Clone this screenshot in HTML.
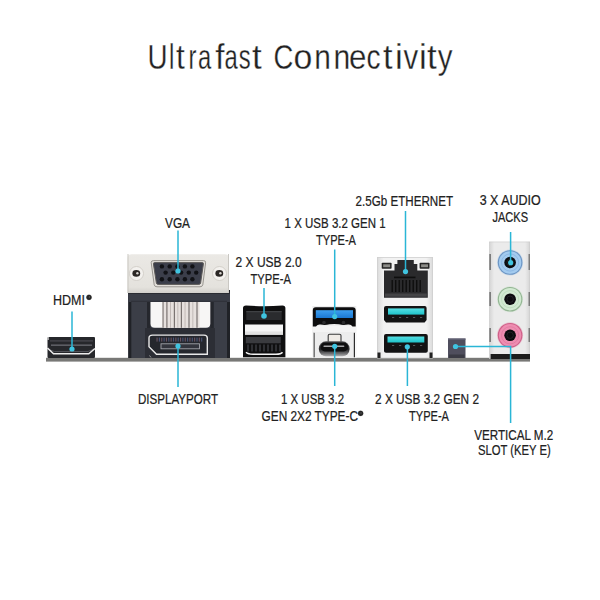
<!DOCTYPE html>
<html><head><meta charset="utf-8">
<style>
html,body{margin:0;padding:0;background:#fff;width:600px;height:600px;overflow:hidden}
svg{display:block}
text{font-family:"Liberation Sans",sans-serif;fill:#222}
</style></head>
<body>
<svg width="600" height="600" viewBox="0 0 600 600">
<defs>
  <linearGradient id="plate" x1="0" y1="0" x2="0" y2="1">
    <stop offset="0" stop-color="#ebe9e5"/>
    <stop offset="0.85" stop-color="#e4e2dd"/>
    <stop offset="1" stop-color="#d2d0cb"/>
  </linearGradient>
  <linearGradient id="housing" x1="0" y1="0" x2="1" y2="0">
    <stop offset="0" stop-color="#d9d9d9"/>
    <stop offset="0.06" stop-color="#e6e6e6"/>
    <stop offset="0.12" stop-color="#f2f2f2"/>
    <stop offset="0.88" stop-color="#f2f2f2"/>
    <stop offset="0.94" stop-color="#e6e6e6"/>
    <stop offset="1" stop-color="#d9d9d9"/>
  </linearGradient>
  <linearGradient id="audio" x1="0" y1="0" x2="1" y2="0">
    <stop offset="0" stop-color="#d4d4d4"/>
    <stop offset="0.12" stop-color="#ebebeb"/>
    <stop offset="0.88" stop-color="#ebebeb"/>
    <stop offset="1" stop-color="#d4d4d4"/>
  </linearGradient>
  <linearGradient id="tcshell" x1="0" y1="0" x2="0" y2="1">
    <stop offset="0" stop-color="#555557"/>
    <stop offset="0.55" stop-color="#2a2a2c"/>
    <stop offset="0.8" stop-color="#6a6a6c"/>
    <stop offset="1" stop-color="#b0b0b2"/>
  </linearGradient>
  <linearGradient id="blue" x1="0" y1="0" x2="0" y2="1">
    <stop offset="0" stop-color="#3d9ff0"/>
    <stop offset="1" stop-color="#1b78d2"/>
  </linearGradient>
  <linearGradient id="teal" x1="0" y1="0" x2="0" y2="1">
    <stop offset="0" stop-color="#55dfe3"/>
    <stop offset="1" stop-color="#1fc3ca"/>
  </linearGradient>
</defs>

<!-- Title -->
<g font-size="35" style="fill:#111;stroke:#fff;stroke-width:0.3">
<text transform="translate(157.50 68.5) scale(0.795 1)" x="-12.64" y="0">U</text>
<text transform="translate(171.65 68.5) scale(0.683 1)" x="-3.90" y="0">l</text>
<text transform="translate(180.65 68.5) scale(0.906 1)" x="-5.00" y="0">t</text>
<text transform="translate(193.00 68.5) scale(0.686 1)" x="-6.70" y="0">r</text>
<text transform="translate(205.00 68.5) scale(0.680 1)" x="-10.48" y="0">a</text>
<text transform="translate(220.00 68.5) scale(0.948 1)" x="-5.14" y="0">f</text>
<text transform="translate(231.65 68.5) scale(0.680 1)" x="-10.48" y="0">a</text>
<text transform="translate(244.65 68.5) scale(0.680 1)" x="-8.60" y="0">s</text>
<text transform="translate(257.00 68.5) scale(1.000 1)" x="-5.00" y="0">t</text>
<text transform="translate(283.70 68.5) scale(0.785 1)" x="-12.86" y="0">C</text>
<text transform="translate(303.00 68.5) scale(0.968 1)" x="-9.73" y="0">o</text>
<text transform="translate(322.65 68.5) scale(0.854 1)" x="-9.76" y="0">n</text>
<text transform="translate(342.00 68.5) scale(0.861 1)" x="-9.76" y="0">n</text>
<text transform="translate(357.65 68.5) scale(0.895 1)" x="-9.70" y="0">e</text>
<text transform="translate(373.65 68.5) scale(0.802 1)" x="-9.03" y="0">c</text>
<text transform="translate(388.00 68.5) scale(0.985 1)" x="-5.00" y="0">t</text>
<text transform="translate(398.80 68.5) scale(1.000 1)" x="-3.88" y="0">i</text>
<text transform="translate(410.75 68.5) scale(0.840 1)" x="-8.75" y="0">v</text>
<text transform="translate(422.75 68.5) scale(1.000 1)" x="-3.88" y="0">i</text>
<text transform="translate(432.00 68.5) scale(1.000 1)" x="-5.00" y="0">t</text>
<text transform="translate(445.20 68.5) scale(0.842 1)" x="-8.76" y="0">y</text>
</g>

<!-- Base bar -->
<rect x="46" y="357.8" width="484" height="3.8" fill="#787876"/>

<!-- HDMI -->
<g>
  <rect x="47.5" y="337" width="47.5" height="21" rx="1" fill="#26272b"/>
  <rect x="50" y="340.3" width="43" height="1.2" fill="#4a4b52"/>
  <rect x="51" y="344.5" width="41" height="1.3" fill="#6a6b72"/>
  <path d="M48.5 349.5 L54.5 351.5 L88 351.5 L94 349" fill="none" stroke="#55565c" stroke-width="0.9"/>
  <path d="M47.5 348 L53.5 353.8 L88.8 353.8 L95 348.5" fill="none" stroke="#ececec" stroke-width="1.5"/>
  <rect x="47.5" y="337" width="1.2" height="3" fill="#d8d8d8"/>
</g>

<!-- VGA / DP block -->
<g>
  <rect x="128.3" y="290" width="101.7" height="68" fill="#3b3e47"/>
  <rect x="128.3" y="290" width="3" height="68" fill="#202227"/>
  <rect x="227" y="290" width="3" height="68" fill="#202227"/>
  <rect x="147" y="300" width="3.5" height="31" fill="#25272d"/>
  <rect x="210.3" y="300" width="3.5" height="31" fill="#25272d"/>
  <rect x="145" y="328" width="70" height="30" fill="#2c2e35"/>
  <!-- window with pins -->
  <path d="M150.5 302 H210.3 V323.5 Q210.3 327.8 206 327.8 H154.8 Q150.5 327.8 150.5 323.5 Z" fill="#f7f6f5"/>
  <rect x="162.5" y="302" width="37" height="25.8" fill="#e6e0dd"/>
  <g fill="#7a7371">
    <rect x="162.5" y="302" width="1.1" height="25.8"/>
    <rect x="166.3" y="302" width="1.2" height="25.8"/>
    <rect x="173.8" y="302" width="1.2" height="25.8"/>
    <rect x="180.8" y="302" width="1.2" height="25.8"/>
    <rect x="188.4" y="302" width="1.2" height="25.8"/>
    <rect x="196.4" y="302" width="1.2" height="25.8"/>
  </g>
  <g fill="#bdb5b2">
    <rect x="170" y="302" width="0.9" height="25.8"/>
    <rect x="177.4" y="302" width="0.9" height="25.8"/>
    <rect x="184.6" y="302" width="0.9" height="25.8"/>
    <rect x="192.4" y="302" width="0.9" height="25.8"/>
  </g>
  <rect x="128.3" y="292.5" width="101.7" height="9.5" fill="#3a3d46"/>
  <rect x="128.3" y="292.5" width="101.7" height="1.5" fill="#2a2c32"/>
  <rect x="131" y="300.8" width="96" height="1.2" fill="#30323a"/>
  <!-- VGA plate -->
  <path d="M127.5 258 Q127.5 254.2 131.5 254.2 H225 Q229 254.2 229 258 V293 H127.5 Z" fill="url(#plate)"/>
  <rect x="127.5" y="254" width="1" height="39" fill="#c9c7c2"/>
  <rect x="228" y="254" width="1" height="39" fill="#c9c7c2"/>
  <!-- screws -->
  <circle cx="136.5" cy="273.5" r="7" fill="#f3f1ee" stroke="#cdc9c3" stroke-width="0.8"/>
  <ellipse cx="136.3" cy="273.4" rx="3.9" ry="3.3" fill="#2a2624"/>
  <circle cx="137.4" cy="273.2" r="1.2" fill="#d6d2ce"/>
  <circle cx="219.5" cy="273.5" r="7" fill="#f3f1ee" stroke="#cdc9c3" stroke-width="0.8"/>
  <ellipse cx="219.3" cy="273.4" rx="3.9" ry="3.3" fill="#2a2624"/>
  <circle cx="220.4" cy="273.2" r="1.2" fill="#d6d2ce"/>
  <!-- D-sub shell -->
  <path d="M151.2 262.5 Q151.2 260.6 153.5 260.6 H203.5 Q205.9 260.6 205.6 262.8 L202.8 284.8 Q202.4 286.8 200 286.8 H157 Q154.6 286.8 154.2 284.8 Z" fill="#e2dfda" stroke="#8f8b86" stroke-width="0.9"/>
  <path d="M153.4 263.8 Q153.4 262.6 154.8 262.6 H202.2 Q203.6 262.6 203.4 264 L200.6 283 Q200.3 284.4 198.8 284.4 H158.2 Q156.7 284.4 156.4 283 Z" fill="#3b3e4a" stroke="#5e5c5a" stroke-width="1"/>
  <g fill="#111216">
    <circle cx="161.9" cy="266.4" r="2.2"/><circle cx="169.7" cy="266.4" r="2.2"/><circle cx="177.4" cy="266.4" r="2.2"/><circle cx="184.9" cy="266.4" r="2.2"/><circle cx="192.4" cy="266.4" r="2.2"/>
    <circle cx="165.6" cy="272.6" r="2.2"/><circle cx="173.3" cy="272.6" r="2.2"/><circle cx="181.1" cy="272.6" r="2.2"/><circle cx="188.8" cy="272.6" r="2.2"/><circle cx="196.2" cy="272.6" r="2.2"/>
    <circle cx="161.9" cy="279.2" r="2.2"/><circle cx="169.7" cy="279.2" r="2.2"/><circle cx="177.4" cy="279.2" r="2.2"/><circle cx="184.9" cy="279.2" r="2.2"/><circle cx="192.4" cy="279.2" r="2.2"/>
  </g>
  <!-- DisplayPort -->
  <path d="M149.5 355.5 L151 357.5" stroke="#9a9a9a" stroke-width="1" fill="none"/>
  <path d="M152.5 335.1 H204 Q207.3 335.1 207.3 338 V354.2 H156.5 L149 346.8 V338 Q149 335.1 152.5 335.1 Z" fill="#25272d" stroke="#e9e9e9" stroke-width="1.4"/>
  <g><rect x="156.50" y="337.6" width="1.1" height="4" fill="#6b5563"/><rect x="158.85" y="337.6" width="1.1" height="4" fill="#4b5578"/><rect x="161.20" y="337.6" width="1.1" height="4" fill="#6b5563"/><rect x="163.55" y="337.6" width="1.1" height="4" fill="#4b5578"/><rect x="165.90" y="337.6" width="1.1" height="4" fill="#6b5563"/><rect x="168.25" y="337.6" width="1.1" height="4" fill="#4b5578"/><rect x="170.60" y="337.6" width="1.1" height="4" fill="#6b5563"/><rect x="172.95" y="337.6" width="1.1" height="4" fill="#4b5578"/><rect x="175.30" y="337.6" width="1.1" height="4" fill="#6b5563"/><rect x="177.65" y="337.6" width="1.1" height="4" fill="#4b5578"/><rect x="180.00" y="337.6" width="1.1" height="4" fill="#6b5563"/><rect x="182.35" y="337.6" width="1.1" height="4" fill="#4b5578"/><rect x="184.70" y="337.6" width="1.1" height="4" fill="#6b5563"/><rect x="187.05" y="337.6" width="1.1" height="4" fill="#4b5578"/><rect x="189.40" y="337.6" width="1.1" height="4" fill="#6b5563"/><rect x="191.75" y="337.6" width="1.1" height="4" fill="#4b5578"/><rect x="194.10" y="337.6" width="1.1" height="4" fill="#6b5563"/><rect x="196.45" y="337.6" width="1.1" height="4" fill="#4b5578"/><rect x="198.80" y="337.6" width="1.1" height="4" fill="#6b5563"/><rect x="201.15" y="337.6" width="1.1" height="4" fill="#4b5578"/></g>
  <rect x="161" y="343.8" width="38.5" height="5" fill="#33353d" stroke="#a3a5ab" stroke-width="0.9"/>
</g>

<!-- USB 2.0 stack -->
<g>
  <path d="M243 308 Q243 305.5 246 305.5 Q264 307 282.5 305.5 Q285.4 305.5 285.4 308 V357.2 H243 Z" fill="#0f0f10"/>
  <rect x="246.3" y="311.2" width="35.4" height="8.8" fill="#2a2b2e"/>
  <rect x="246.3" y="311.2" width="35.4" height="1" fill="#48494d"/>
  <rect x="245" y="324.5" width="38" height="10.2" fill="#f5f5f5"/>
  <rect x="245" y="331.5" width="38" height="3.2" fill="#e2e2e2"/>
  <rect x="245.8" y="337" width="35" height="6.3" fill="#3a3b3f"/>
  <g fill="#2e2f33">
    <rect x="247" y="344.5" width="2" height="7"/><rect x="251" y="344.5" width="2" height="7"/><rect x="255" y="344.5" width="2" height="7"/><rect x="259" y="344.5" width="2" height="7"/><rect x="263" y="344.5" width="2" height="7"/><rect x="267" y="344.5" width="2" height="7"/><rect x="271" y="344.5" width="2" height="7"/><rect x="275" y="344.5" width="2" height="7"/><rect x="279" y="344.5" width="2" height="7"/>
  </g>
  <path d="M246 352.3 Q248 354.3 253 354.3 H276 Q281 354.3 282.5 352.3" fill="none" stroke="#f2f2f2" stroke-width="1.5"/>
</g>

<!-- USB 3.2 Gen1 + Type-C -->
<g>
  <rect x="312.3" y="306" width="44" height="52" fill="#ededed"/>
  <rect x="312.3" y="326" width="44" height="6" fill="#f4f4f4"/>
  <rect x="313.4" y="332.8" width="1.2" height="24.5" fill="#2e2e2e"/>
  <rect x="353.8" y="332.8" width="1.2" height="24.5" fill="#2e2e2e"/>
  <rect x="312.3" y="333" width="1.1" height="24.5" fill="#fafafa"/>
  <rect x="355" y="333" width="1.3" height="24.5" fill="#fafafa"/>
  <path d="M312.8 310.3 Q312.8 307.2 315.8 307.2 H352.7 Q355.7 307.2 355.7 310.3 V326.5 H352.5 Q351 324 348 324.5 Q343 325.5 339 324.3 Q334 323.6 329.5 324.3 Q325 325.5 320.5 324.5 Q317.5 324 316 326.5 H312.8 Z" fill="#0d0d0e"/>
  <rect x="315.8" y="310.2" width="37.2" height="7.8" fill="url(#blue)"/>
  <circle cx="324" cy="322.6" r="1.8" fill="#2a2a2c"/>
  <circle cx="343.5" cy="322.6" r="1.8" fill="#2a2a2c"/>
  <path d="M328.2 342.3 V335.6 Q328.2 334.2 329.7 334.2 H339.5 Q341 334.2 341 335.6 V342.3" fill="#efebe6" stroke="#3a3a3a" stroke-width="1.1"/>
  <rect x="318.8" y="341.3" width="30.8" height="15" rx="7.2" fill="url(#tcshell)"/>
  <rect x="320.4" y="342.6" width="27.9" height="8.8" rx="4.4" fill="#0f0f10"/>
  <rect x="323.4" y="345.6" width="21" height="1.5" rx="0.75" fill="#a6a6a8"/>
</g>

<!-- Ethernet + USB 3.2 Gen2 -->
<g>
  <rect x="377" y="257" width="56" height="101" fill="url(#housing)"/>
  <rect x="377.4" y="257.4" width="55.2" height="100.6" fill="none" stroke="#d0d0d0" stroke-width="0.8"/>
  <!-- LEDs -->
  <rect x="381.7" y="262.8" width="9.9" height="5.9" rx="0.8" fill="#262626"/>
  <rect x="383.2" y="264.3" width="6.9" height="2.9" fill="#8c8c88"/>
  <rect x="419.6" y="262.8" width="9.9" height="5.9" rx="0.8" fill="#262626"/>
  <rect x="421.1" y="264.3" width="6.9" height="2.9" fill="#8c8c88"/>
  <!-- RJ45 -->
  <path d="M397.4 260 H413.8 V264 H417.3 V270.4 H427.8 V297.8 H384 V270.4 H394.5 V264 H397.4 Z" fill="#2a2a2c"/>
  <rect x="394" y="276.6" width="21.5" height="1.6" fill="#0e0e0e"/>
  <g fill="#0e0e0e">
    <rect x="391.5" y="280" width="1.4" height="12"/><rect x="395" y="280" width="1.4" height="12"/>
    <rect x="398.5" y="280" width="1.4" height="12"/><rect x="402" y="280" width="1.4" height="12"/>
    <rect x="405.5" y="280" width="1.4" height="12"/><rect x="409" y="280" width="1.4" height="12"/>
    <rect x="412.5" y="280" width="1.4" height="12"/><rect x="416" y="280" width="1.4" height="12"/>
    <rect x="419.5" y="280" width="1.4" height="12"/>
  </g>
  <rect x="385" y="293.5" width="41.8" height="3.2" fill="#444446"/>
  <!-- USB upper -->
  <path d="M384 308 Q384 306 386 306 H424.6 Q426.6 306 426.6 308 V320 L424.6 322.4 H386 L384 320 Z" fill="#131314"/>
  <rect x="388" y="308.4" width="36.3" height="6.2" fill="url(#teal)"/>
  <g fill="#55565a"><rect x="392" y="317" width="2.2" height="1"/><rect x="399" y="317" width="2.2" height="1"/><rect x="406" y="317" width="2.2" height="1"/><rect x="413" y="317" width="2.2" height="1"/><rect x="420" y="317" width="2.2" height="1"/></g>
  <!-- USB lower -->
  <path d="M384 336 Q384 334 386 334 H425.8 Q427.8 334 427.8 336 V351 Q427.8 352.8 425.8 352.8 H386 Q384 352.8 384 351 Z" fill="#131314"/>
  <rect x="387.5" y="336.5" width="36.8" height="6" fill="url(#teal)"/>
  <g fill="#55565a"><rect x="392" y="345" width="2.2" height="1"/><rect x="399" y="345" width="2.2" height="1"/><rect x="413" y="345" width="2.2" height="1"/><rect x="420" y="345" width="2.2" height="1"/></g>
  <rect x="377.5" y="352.5" width="3" height="5.5" fill="#222"/>
  <rect x="429.5" y="352.5" width="3" height="5.5" fill="#222"/>
</g>

<!-- M.2 -->
<rect x="448" y="338.5" width="17.5" height="19.5" fill="#4f4e5d"/>
<rect x="448" y="338.5" width="17.5" height="1.2" fill="#66657a"/><rect x="449" y="354.5" width="15.5" height="3.5" fill="#3a3a44"/>

<!-- Audio -->
<g>
  <rect x="489.3" y="241.7" width="40.7" height="117" fill="url(#audio)"/>
  <rect x="489.6" y="242" width="40.1" height="116.5" fill="none" stroke="#cbcbcb" stroke-width="0.6"/>
  <rect x="489.5" y="254" width="1.2" height="16" fill="#555"/>
  <rect x="528.6" y="254" width="1.2" height="16" fill="#666"/>
  <rect x="489.5" y="292" width="1.2" height="14" fill="#555"/>
  <rect x="528.6" y="292" width="1.2" height="14" fill="#666"/>
  <rect x="489.5" y="328" width="1.2" height="14" fill="#555"/>
  <rect x="528.6" y="328" width="1.2" height="14" fill="#666"/>
  <rect x="490.6" y="354" width="39.4" height="5" fill="#1c1c1c"/>
  <circle cx="510.1" cy="262.5" r="13" fill="#8ab6e2" opacity="0.35"/>
  <circle cx="510.1" cy="262.5" r="12.3" fill="#6c95c4"/>
  <circle cx="510.1" cy="262.5" r="11.2" fill="#a3cbef"/>
  <circle cx="510.1" cy="262.5" r="8.6" fill="none" stroke="#8ab6e2" stroke-width="0.9"/>
  <circle cx="510.1" cy="262.5" r="5.8" fill="#0c0c0f"/>
  <circle cx="510.1" cy="262.5" r="3.2" fill="none" stroke="#2a2a2e" stroke-width="0.7"/>
  <circle cx="510.1" cy="299.2" r="13" fill="#bcdcbc" opacity="0.35"/>
  <circle cx="510.1" cy="299.2" r="12.3" fill="#93b593"/>
  <circle cx="510.1" cy="299.2" r="11.2" fill="#d2ead2"/>
  <circle cx="510.1" cy="299.2" r="8.6" fill="none" stroke="#bcdcbc" stroke-width="0.9"/>
  <circle cx="510.1" cy="299.2" r="5.8" fill="#0c0c0f"/>
  <circle cx="510.1" cy="299.2" r="3.2" fill="none" stroke="#2a2a2e" stroke-width="0.7"/>
  <circle cx="510.1" cy="335.3" r="13" fill="#e07aa0" opacity="0.35"/>
  <circle cx="510.1" cy="335.3" r="12.3" fill="#cf5f88"/>
  <circle cx="510.1" cy="335.3" r="11.2" fill="#ee8db1"/>
  <circle cx="510.1" cy="335.3" r="8.6" fill="none" stroke="#e07aa0" stroke-width="0.9"/>
  <circle cx="510.1" cy="335.3" r="5.8" fill="#0c0c0f"/>
  <circle cx="510.1" cy="335.3" r="3.2" fill="none" stroke="#2a2a2e" stroke-width="0.7"/>
</g>

<!-- Cyan pointer lines -->
<g stroke="#2ab6d6" stroke-width="1.5" fill="none">
  <line x1="72" y1="311.5" x2="72" y2="349"/>
  <line x1="178" y1="230.5" x2="178" y2="271"/>
  <line x1="178" y1="346" x2="178" y2="387"/>
  <line x1="264" y1="288" x2="264" y2="316"/>
  <line x1="334.7" y1="249.5" x2="334.7" y2="316.6"/>
  <line x1="334.7" y1="346.3" x2="334.7" y2="386"/>
  <line x1="405.5" y1="211" x2="405.5" y2="271.6"/>
  <line x1="407.4" y1="346.5" x2="407.4" y2="386"/>
  <line x1="510.6" y1="232" x2="510.6" y2="262.7"/>
  <polyline points="455.5,346.5 510.6,346.5 510.6,423"/>
</g>
<g fill="#40c4e0">
  <circle cx="72" cy="349" r="2.6"/>
  <circle cx="178" cy="271" r="2.6"/>
  <circle cx="178" cy="346" r="2.6"/>
  <circle cx="264" cy="316" r="2.8"/>
  <circle cx="334.7" cy="316.6" r="2.6"/>
  <circle cx="334.7" cy="346.3" r="2.6"/>
  <circle cx="405.5" cy="271.6" r="2.6"/>
  <circle cx="407.3" cy="346.8" r="2.6"/>
  <circle cx="510.6" cy="262.7" r="2.6"/>
  <circle cx="455.5" cy="346.5" r="2.6"/>
</g>

<!-- Labels -->
<g font-size="14" style="fill:#1c1c1c;stroke:#1c1c1c;stroke-width:0.22">
  <text x="53" y="305" textLength="32" lengthAdjust="spacingAndGlyphs">HDMI</text>
  <circle cx="89" cy="297.3" r="2.6" fill="#262626"/><circle cx="89.4" cy="297" r="0.7" fill="#777"/>
  <text x="165" y="228" textLength="25" lengthAdjust="spacingAndGlyphs">VGA</text>
  <text x="138" y="403.7" textLength="80" lengthAdjust="spacingAndGlyphs">DISPLAYPORT</text>
  <text x="235.6" y="267.4" textLength="66" lengthAdjust="spacingAndGlyphs">2 X USB 2.0</text>
  <text x="250.5" y="284" textLength="40.5" lengthAdjust="spacingAndGlyphs">TYPE-A</text>
  <text x="284.6" y="228" textLength="101" lengthAdjust="spacingAndGlyphs">1 X USB 3.2 GEN 1</text>
  <text x="316" y="245" textLength="40" lengthAdjust="spacingAndGlyphs">TYPE-A</text>
  <text x="355.6" y="205.6" textLength="97.4" lengthAdjust="spacingAndGlyphs">2.5Gb ETHERNET</text>
  <text x="479.7" y="205.2" textLength="61" lengthAdjust="spacingAndGlyphs">3 X AUDIO</text>
  <text x="492.5" y="222.2" textLength="35.5" lengthAdjust="spacingAndGlyphs">JACKS</text>
  <text x="281" y="404" textLength="63" lengthAdjust="spacingAndGlyphs">1 X USB 3.2</text>
  <text x="261.6" y="420.6" textLength="96.4" lengthAdjust="spacingAndGlyphs">GEN 2X2 TYPE-C</text>
  <circle cx="360.6" cy="413.3" r="2.6" fill="#262626"/><circle cx="361" cy="413" r="0.7" fill="#777"/>
  <text x="375" y="404" textLength="104" lengthAdjust="spacingAndGlyphs">2 X USB 3.2 GEN 2</text>
  <text x="409" y="420.6" textLength="40" lengthAdjust="spacingAndGlyphs">TYPE-A</text>
  <text x="474.2" y="439.5" textLength="79" lengthAdjust="spacingAndGlyphs">VERTICAL M.2</text>
  <text x="478" y="454.5" textLength="72.8" lengthAdjust="spacingAndGlyphs">SLOT (KEY E)</text>
</g>
</svg>
</body></html>
